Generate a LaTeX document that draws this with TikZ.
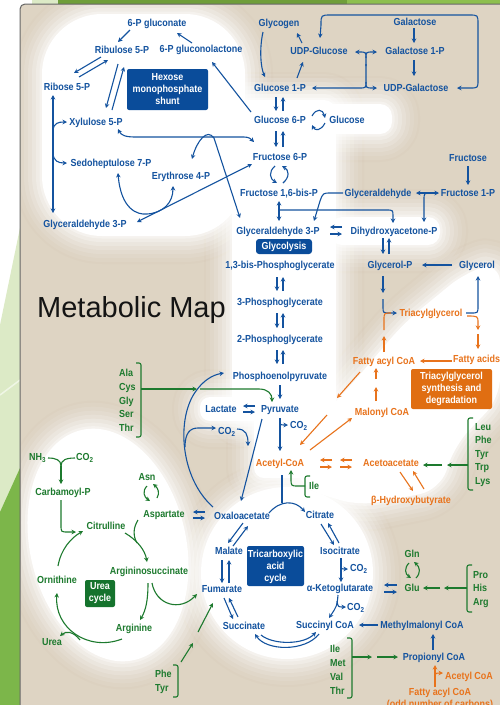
\documentclass[tikz,border=0pt]{standalone}
\usepackage{fontspec}
\setmainfont{Liberation Sans}
\newfontfamily\lab{Liberation Sans}[FakeStretch=0.88]
\usetikzlibrary{arrows.meta}
\definecolor{bg}{HTML}{DED4C3}
\definecolor{shadow}{HTML}{8A7256}
\definecolor{tblue}{HTML}{14539F}
\definecolor{bblue}{HTML}{0A4C9A}
\definecolor{tgreen}{HTML}{1D7A2E}
\definecolor{bgreen}{HTML}{15732D}
\definecolor{torange}{HTML}{E8731C}
\definecolor{borange}{HTML}{E06E12}
\definecolor{lgr}{HTML}{DCEAC6}
\definecolor{dgr}{HTML}{7CB64A}
\definecolor{olive}{HTML}{6F9E3A}
\definecolor{brgr}{HTML}{8DBF4E}
\newcommand\glowshapes[1]{%
 #1 [rounded corners=60pt] (42,14) rectangle (245,236);
 #1 [rounded corners=12pt] (232,100) rectangle (336,420);
 #1 [rounded corners=12pt] (240,104) rectangle (392,134);
 #1 [rounded corners=12pt] (330,217) rectangle (440,245);
 #1 [rounded corners=10pt] (200,397) rectangle (320,421);
 #1 [rounded corners=10pt] (254,400) rectangle (318,478);
 #1 [rounded corners=20pt] (466,272) -- (500,262) -- (500,398) -- (455,445) -- (440,490) -- (360,506) -- (300,488) -- (292,448) -- (345,392) -- (405,322) -- cycle;
 #1 (287,573) circle (86);
 #1 (108,545) circle [x radius=78, y radius=118, rotate=13];
}
\begin{document}
\begin{tikzpicture}[x=1pt,y=-1pt,
  >={Stealth[length=4.5pt,width=4.5pt]},
  lbl/.style={inner sep=0pt, anchor=base, yshift=-3.65pt, font=\lab\bfseries\fontsize{10.2}{11}\selectfont},
  nb/.style={lbl,text=tblue}, ng/.style={lbl,text=tgreen}, no/.style={lbl,text=torange},
  boxtext/.style={inner sep=0pt, align=center, text=white, font=\lab\bfseries\fontsize{10.2}{12}\selectfont},
  ab/.style={draw=tblue,line width=1.1pt,->},
  lb/.style={draw=tblue,line width=1.1pt},
  ag/.style={draw=tgreen,line width=1.1pt,->},
  lg/.style={draw=tgreen,line width=1.1pt},
  ao/.style={draw=torange,line width=1.1pt,->},
  lo/.style={draw=torange,line width=1.1pt},
  brk/.style={draw=tgreen,line width=1.1pt,rounded corners=2pt}]
\useasboundingbox (0,0) rectangle (500,705);
% ---------- background ----------
\fill[white] (0,0) rectangle (500,705);
\fill[lgr] (32,0) rectangle (58,4);
\fill[olive] (58,0) rectangle (347,4);
\fill[brgr] (347,0) rectangle (500,4);
\fill[lgr] (20,228) -- (0,325) -- (0,705) -- (20,705) -- cycle;
\draw[white!55!lgr, line width=1.5pt] (0,395) -- (20,380);
\fill[dgr] (20,468) -- (0,512) -- (0,705) -- (20,705) -- cycle;
\fill[bg, rounded corners=5pt] (20,712) -- (20,4) -- (507,4) -- (507,712) -- cycle;
\begin{scope}
\clip (21,5) rectangle (500,705);
\glowshapes{\draw[shadow,opacity=0.025,line width=56pt,line join=round]}
\foreach \w/\o in {52/0.07,44/0.09,36/0.12,28/0.15,20/0.2,12/0.27,5/0.35}{%
  \glowshapes{\draw[white,opacity=\o,line width=\w pt,line join=round]}}
\glowshapes{\fill[white]}
\end{scope}
\draw[black!60, line width=1pt, rounded corners=5pt] (20,712) -- (20,4) -- (507,4);
% ---------- boxes ----------
\fill[bblue, rounded corners=2pt] (127,69) rectangle (208,110);
\node[boxtext] (hmpbox) at (167.5,89.5) {Hexose\\monophosphate\\shunt};
\fill[bblue, rounded corners=3pt] (256,239) rectangle (312,254);
\node[boxtext] (glybox) at (284,246.5) {Glycolysis};
\fill[borange, rounded corners=2pt] (411,369) rectangle (492,409);
\node[boxtext] (tagbox) at (451.5,389) {Triacylglycerol\\synthesis and\\degradation};
\fill[bblue, rounded corners=2pt] (247,546) rectangle (304,586);
\node[boxtext] (tcabox) at (275.5,567) {Tricarboxylic\\acid\\cycle};
\fill[bgreen, rounded corners=2pt] (85,580) rectangle (115,607);
\node[boxtext] (ureabox) at (100,593.5) {Urea\\cycle};
% ---------- title ----------
\node[inner sep=0pt, anchor=base, yshift=-10.4pt, text=black!92, font=\fontsize{29}{30}\selectfont] (title) at (131.5,307) {Metabolic Map};
% ---------- blue labels ----------
\node[nb] (pg) at (157,23) {6-P gluconate};
\node[nb] (rul) at (122,50) {Ribulose 5-P};
\node[nb] (pgl) at (201,49) {6-P gluconolactone};
\node[nb] (rib) at (67,87) {Ribose 5-P};
\node[nb] (xyl) at (96,122) {Xylulose 5-P};
\node[nb] (sed) at (111,163) {Sedoheptulose 7-P};
\node[nb] (ery) at (181,176) {Erythrose 4-P};
\node[nb] (gapl) at (85,224) {Glyceraldehyde 3-P};
\node[nb] (glyg) at (279,23) {Glycogen};
\node[nb] (gal) at (415,22) {Galactose};
\node[nb] (udpg) at (319,51) {UDP-Glucose};
\node[nb] (gal1p) at (415,51) {Galactose 1-P};
\node[nb] (g1p) at (280,88) {Glucose 1-P};
\node[nb] (udpgal) at (416,88) {UDP-Galactose};
\node[nb] (g6p) at (280,120) {Glucose 6-P};
\node[nb] (glc) at (347,120) {Glucose};
\node[nb] (f6p) at (280,157) {Fructose 6-P};
\node[nb] (fru) at (468,158) {Fructose};
\node[nb] (fbp) at (279,193) {Fructose 1,6-bis-P};
\node[nb] (glyald) at (378,193) {Glyceraldehyde};
\node[nb] (f1p) at (468,193) {Fructose 1-P};
\node[nb] (gap) at (278,231) {Glyceraldehyde 3-P};
\node[nb] (dhap) at (394,231) {Dihydroxyacetone-P};
\node[nb] (bpg) at (280,265) {1,3-bis-Phosphoglycerate};
\node[nb] (pgc3) at (280,302) {3-Phosphoglycerate};
\node[nb] (pgc2) at (280,339) {2-Phosphoglycerate};
\node[nb] (pep) at (280,376) {Phosphoenolpyruvate};
\node[nb] (pyr) at (280,409) {Pyruvate};
\node[nb] (lac) at (221,409) {Lactate};
\node[nb,anchor=base west] (co2a) at (290,425) {CO\textsubscript{2}};
\node[nb,anchor=base west] (co2b) at (218,431) {CO\textsubscript{2}};
\node[nb] (glyp) at (390,265) {Glycerol-P};
\node[nb] (glyc) at (477,265) {Glycerol};
\node[nb] (oaa) at (242,516) {Oxaloacetate};
\node[nb] (cit) at (320,515) {Citrate};
\node[nb] (mal) at (229,551) {Malate};
\node[nb] (iso) at (340,551) {Isocitrate};
\node[nb,anchor=base west] (co2c) at (350,568) {CO\textsubscript{2}};
\node[nb] (fum) at (222,589) {Fumarate};
\node[nb] (akg) at (340,588) {α-Ketoglutarate};
\node[nb,anchor=base west] (co2d) at (347,607) {CO\textsubscript{2}};
\node[nb] (suc) at (244,626) {Succinate};
\node[nb] (scoa) at (325,625) {Succinyl CoA};
\node[nb] (mmc) at (422,625) {Methylmalonyl CoA};
\node[nb] (prop) at (434,657) {Propionyl CoA};
% ---------- orange labels ----------
\node[no] (tag) at (431,313) {Triacylglycerol};
\node[no] (facoa) at (384,361) {Fatty acyl CoA};
\node[no,anchor=base west] (fa) at (453,359) {Fatty acids};
\node[no] (malc) at (382,412) {Malonyl CoA};
\node[no] (acoa) at (280,463) {Acetyl-CoA};
\node[no] (aceto) at (391,463) {Acetoacetate};
\node[no] (bhb) at (411,500) {β-Hydroxybutyrate};
\node[no] (acoa2) at (469,676) {Acetyl CoA};
\node[no] (facoa2) at (440,692) {Fatty acyl CoA};
\node[no] (odd) at (440,704) {(odd number of carbons)};
% ---------- green labels ----------
\node[ng,anchor=base west] (ala) at (119,373) {Ala};
\node[ng,anchor=base west] (cys) at (119,387) {Cys};
\node[ng,anchor=base west] (gly) at (119,401) {Gly};
\node[ng,anchor=base west] (ser) at (119,414) {Ser};
\node[ng,anchor=base west] (thr) at (119,428) {Thr};
\node[ng,anchor=base west] (leu) at (475,427) {Leu};
\node[ng,anchor=base west] (phe) at (475,440) {Phe};
\node[ng,anchor=base west] (tyr) at (475,454) {Tyr};
\node[ng,anchor=base west] (trp) at (475,467) {Trp};
\node[ng,anchor=base west] (lys) at (475,481) {Lys};
\node[ng,anchor=base west] (ilea) at (309,486) {Ile};
\node[ng] (gln) at (412,554) {Gln};
\node[ng] (glu) at (412,588) {Glu};
\node[ng,anchor=base west] (pro) at (473,575) {Pro};
\node[ng,anchor=base west] (his) at (473,588) {His};
\node[ng,anchor=base west] (arg) at (473,602) {Arg};
\node[ng,anchor=base west] (ileb) at (330,649) {Ile};
\node[ng,anchor=base west] (met) at (330,663) {Met};
\node[ng,anchor=base west] (val) at (330,677) {Val};
\node[ng,anchor=base west] (thrb) at (330,691) {Thr};
\node[ng,anchor=base west] (nh3) at (29,457) {NH\textsubscript{3}};
\node[ng,anchor=base west] (co2e) at (76,457) {CO\textsubscript{2}};
\node[ng] (cbp) at (63,492) {Carbamoyl-P};
\node[ng] (asn) at (147,477) {Asn};
\node[ng] (asp) at (164,514) {Aspartate};
\node[ng] (citr) at (106,526) {Citrulline};
\node[ng] (asuc) at (149,571) {Argininosuccinate};
\node[ng] (orn) at (57,580) {Ornithine};
\node[ng] (argn) at (134,628) {Arginine};
\node[ng] (urea) at (52,642) {Urea};
\node[ng,anchor=base west] (pheb) at (155,674) {Phe};
\node[ng,anchor=base west] (tyrb) at (155,688) {Tyr};
% ---------- blue connectors: HMP shunt ----------
\draw[ab] (251,112) -- (212,62);
\draw[ab] (192,43) -- (177,33);
\draw[ab] (130,30) -- (118,42);
\draw[ab] (101,57) -- (74,73);
\draw[ab] (79,77) -- (108,60);
\draw[ab] (118,64) -- (106,108);
\draw[ab] (112,110) -- (124,67);
\draw[ab,<->] (53,95) -- (53,213);
\draw[ab] (53,130) .. controls (54,123) and (58,122) .. (67,122);
\draw[ab] (53,154) .. controls (54,161) and (58,163) .. (67,163);
\draw[ab,<->] (118,129) .. controls (121,135) and (125,137) .. (135,137) -- (244,137) .. controls (249,137) and (251,139) .. (254,142);
\draw[ab,<->] (192,159) .. controls (197,141) and (207,128) .. (214,138) -- (240,218);
\draw[ab,<->] (137,222) -- (252,164);
\draw[ab,<->] (118,173) .. controls (121,210) and (138,215) .. (147,214) .. controls (163,213) and (173,203) .. (173,186);
% ---------- glycogen / galactose ----------
\draw[ab] (263,32) .. controls (259,50) and (261,68) .. (265,77);
\draw[ab] (302,43) -- (297,33);
\draw[ab] (297,78) -- (303,62);
\draw[ab] (366,66) -- (366,58) .. controls (366,52) .. (359,52) -- (355,52);
\draw[ab] (366,58) .. controls (366,52) .. (373,52) -- (377,52);
\draw[ab] (366,64) -- (366,82) .. controls (366,88) .. (359,88) -- (312,88);
\draw[ab] (366,82) .. controls (366,88) .. (373,88) -- (377,88);
\draw[ab] (414,28) -- (414,43);
\draw[ab] (414,60) -- (414,76);
\draw[ab,<->] (457,88) -- (470,88) .. controls (478,88) .. (478,80) -- (478,24) .. controls (478,15) .. (469,15) -- (331,15) .. controls (321,15) .. (321,25) -- (320,38);
% ---------- glycolysis ----------
\draw[ab] (276,97) -- (276,111);
\draw[ab] (283,111) -- (283,97);
\draw[ab] (276,131) -- (276,147);
\draw[ab] (283,147) -- (283,131);
\draw[ab] (312,116) .. controls (316,108) and (323,109) .. (325,118);
\draw[ab] (325,123) .. controls (321,131) and (315,131) .. (312,125);
\draw[ab] (275,166) .. controls (268,172) and (270,179) .. (277,183);
\draw[ab] (283,183) .. controls (290,177) and (289,170) .. (282,166);
\draw[ab,<->] (279,201) -- (279,221);
\draw[ab] (279,210) -- (386,210) .. controls (393,210) .. (393,216) -- (393,223);
\draw[ab] (343,193) -- (331,193) .. controls (323,193) .. (320,201) -- (314,221);
\draw[ab] (468,166) -- (468,185);
\draw[ab,<->] (416,193) -- (439,193);
\draw[ab] (431,193) .. controls (424,193) .. (424,200) -- (424,222);
\draw[ab] (342,227) -- (330,227);
\draw[ab] (330,234) -- (342,234);
\draw[ab] (383,238) -- (383,254);
\draw[ab] (389,254) -- (389,238);
\draw[ab] (452,265) -- (422,265);
\draw[ab] (383,276) -- (383,293);
\draw[ab] (383,299) -- (383,307) .. controls (383,313) .. (390,313) -- (397,313);
\draw[ab] (466,313) -- (471,313) .. controls (478,313) .. (478,306) -- (478,276);
\draw[ab] (277,277) -- (277,291);
\draw[ab] (283,291) -- (283,277);
\draw[ab] (277,313) -- (277,328);
\draw[ab] (283,328) -- (283,313);
\draw[ab] (277,350) -- (277,364);
\draw[ab] (283,364) -- (283,350);
\draw[ab] (280,385) -- (280,399);
\draw[ab] (255,406) -- (243,406);
\draw[ab] (243,412) -- (255,412);
\draw[ab] (280,418) -- (280,451);
\draw[ab] (280,420) .. controls (280,425) .. (288,425);
\draw[ab] (262,419) -- (241,501);
\draw[ab] (213,507) .. controls (180,478) and (176,418) .. (196,391) .. controls (203,381) and (212,375) .. (224,373);
\draw[ab] (185,447) .. controls (185,433) and (190,428) .. (198,428) -- (216,428);
\draw[ab] (237,429) .. controls (246,429) and (248,435) .. (248,446);
\draw[ab] (205,512) -- (193,512);
\draw[ab] (193,518) -- (205,518);
% ---------- TCA ----------
\draw[lb] (282,475) -- (282,503);
\draw[ab] (269,513) .. controls (280,500) and (295,500) .. (305,512);
\draw[ab] (321,524) -- (334,545);
\draw[ab] (339,543) -- (328,523);
\draw[ab] (341,558) -- (341,582);
\draw[ab] (341,563) .. controls (341,569) .. (348,569);
\draw[ab] (338,595) .. controls (337,606) .. (329,618);
\draw[ab] (337,601) .. controls (338,607) .. (346,607);
\draw[ab] (378,625) -- (359,625);
\draw[ab] (433,650) -- (433,634);
\draw[ab] (397,585) -- (384,585);
\draw[ab] (384,592) -- (397,592);
\draw[ab] (319,634) .. controls (305,652) and (266,651) .. (255,634);
\draw[ab] (261,635) .. controls (273,645) and (304,645) .. (316,632);
\draw[ab] (224,598) -- (233,619);
\draw[ab] (238,617) -- (229,598);
\draw[ab] (222,560) -- (222,583);
\draw[ab] (229,583) -- (229,560);
\draw[ab] (243,523) -- (228,543);
\draw[ab] (233,546) -- (248,526);
% ---------- orange connectors ----------
\draw[ao] (467,316) .. controls (478,316) .. (478,323) -- (478,330);
\draw[ao] (478,334) -- (478,349);
\draw[ao] (452,361) -- (420,361);
\draw[ao] (384,352) -- (384,336);
\draw[lo] (384,330) -- (384,320) .. controls (384,313) .. (391,313);
\draw[ao] (376,401) -- (376,387);
\draw[ao] (376,379) -- (376,368);
\draw[ao] (310,450) -- (352,418);
\draw[ao] (360,372) -- (337,398);
\draw[ao] (327,415) -- (300,445);
\draw[ao] (332,460) -- (320,460);
\draw[ao] (320,467) -- (332,467);
\draw[ao] (352,460) -- (340,460);
\draw[ao] (340,467) -- (352,467);
\draw[ao] (400,472) -- (413,491);
\draw[ao] (424,489) -- (413,471);
\draw[ao] (435,687) -- (435,665);
\draw[ao] (435,680) .. controls (435,673) .. (443,673);
% ---------- green connectors ----------
\draw[brk] (136,363) -- (141,363) -- (141,437) -- (136,437);
\draw[ag] (141,389) -- (197,389);
\draw[ag] (200,389) -- (259,389) .. controls (268,389) and (272,394) .. (272,402);
\draw[brk] (473,418) -- (468,418) -- (468,490) -- (473,490);
\draw[ag] (468,465) -- (447,465);
\draw[ag] (442,465) -- (423,465);
\draw[brk] (310,476) -- (305,476) -- (305,497) -- (310,497);
\draw[ag] (305,486) -- (298,486) .. controls (291,486) .. (291,478) -- (291,470);
\draw[brk] (472,565) -- (467,565) -- (467,612) -- (472,612);
\draw[ag] (467,588) -- (444,588);
\draw[ag] (440,588) -- (423,588);
\draw[ag] (409,563) .. controls (404,568) and (405,574) .. (411,578);
\draw[ag] (416,578) .. controls (421,573) and (420,567) .. (414,562);
\draw[brk] (347,638) -- (352,638) -- (352,698) -- (347,698);
\draw[ag] (352,657) -- (372,657);
\draw[ag] (377,657) -- (398,657);
\draw[brk] (173,665) -- (178,665) -- (178,697) -- (173,697);
\draw[ag] (181,662) -- (193,643);
\draw[ag] (198,632) -- (213,603);
\draw[lg] (48,458) .. controls (56,458) and (61,460) .. (61,466);
\draw[lg] (75,458) .. controls (66,458) and (61,460) .. (61,466);
\draw[ag] (61,466) -- (61,484);
\draw[ag] (61,500) -- (61,525) .. controls (61,532) .. (68,532) -- (76,532);
\draw[ag] (58,566) .. controls (61,549) and (71,538) .. (83,531);
\draw[ag] (125,533) .. controls (137,540) and (145,550) .. (147,562);
\draw[lg] (138,520) .. controls (133,528) and (133,536) .. (137,543);
\draw[ag] (148,583) .. controls (148,600) and (146,610) .. (140,620);
\draw[ag] (152,583) .. controls (156,605) and (180,612) .. (197,594);
\draw[ag] (122,639) .. controls (88,652) and (54,628) .. (57,593);
\draw[ag] (80,640) .. controls (73,631) and (66,631) .. (60,636);
\draw[ag] (147,486) .. controls (142,491) and (144,497) .. (150,501);
\draw[ag] (157,498) .. controls (160,493) and (158,488) .. (153,484);
\end{tikzpicture}
\end{document}
